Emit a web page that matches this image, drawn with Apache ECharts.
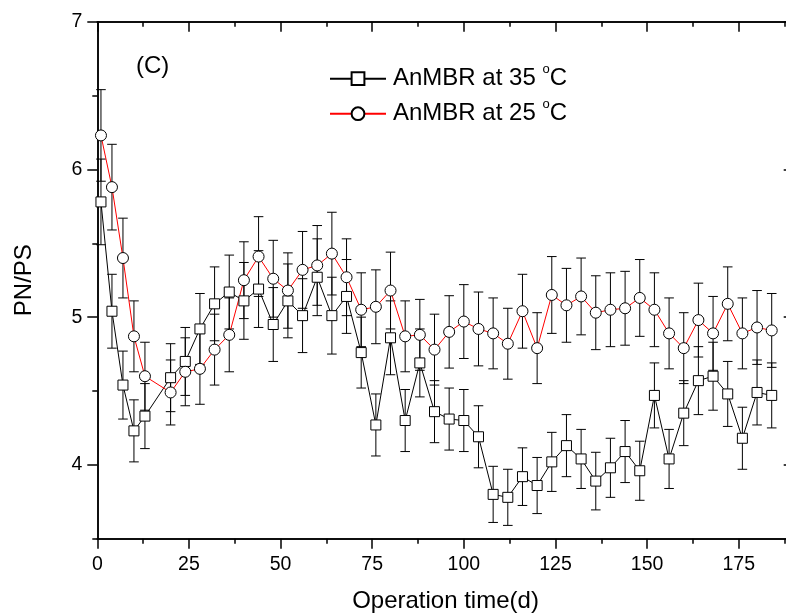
<!DOCTYPE html>
<html>
<head>
<meta charset="utf-8">
<title>PN/PS</title>
<script src="https://cdn.jsdelivr.net/npm/echarts@6.0.0/dist/echarts.min.js"></script>
<style>
html, body { margin: 0; padding: 0; background: #fff; }
#main { width: 786px; height: 615px; }
</style>
</head>
<body>
<div id="main"></div>
<script>
// sampling days (d)
const days = [1, 4, 7, 10, 13, 20, 24, 28, 32, 36, 40, 44, 48, 52, 56, 60, 64, 68, 72, 76, 80, 84, 88, 92,
  96, 100, 104, 108, 112, 116, 120, 124, 128, 132, 136, 140, 144, 148, 152, 156, 160, 164, 168, 172, 176, 180, 184];

// AnMBR at 35 C
const pn35 = [5.78, 5.04, 4.54, 4.23, 4.33, 4.59, 4.70, 4.92, 5.09, 5.17, 5.11, 5.19, 4.95, 5.11, 5.01, 5.27,
  5.01, 5.14, 4.76, 4.27, 4.86, 4.30, 4.69, 4.36, 4.31, 4.30, 4.19, 3.80, 3.78, 3.92, 3.86, 4.02, 4.13, 4.04,
  3.89, 3.98, 4.09, 3.96, 4.47, 4.04, 4.35, 4.57, 4.60, 4.48, 4.18, 4.49, 4.47];
const err35 = [0.29, 0.25, 0.23, 0.21, 0.22, 0.23, 0.23, 0.24, 0.25, 0.25, 0.26, 0.26, 0.25, 0.25, 0.25, 0.26,
  0.26, 0.25, 0.24, 0.21, 0.25, 0.21, 0.23, 0.21, 0.21, 0.21, 0.21, 0.19, 0.19, 0.195, 0.19, 0.20, 0.21, 0.20,
  0.195, 0.20, 0.21, 0.20, 0.22, 0.20, 0.22, 0.23, 0.23, 0.22, 0.21, 0.22, 0.22];

// AnMBR at 25 C
const pn25 = [6.23, 5.88, 5.40, 4.87, 4.60, 4.49, 4.63, 4.65, 4.78, 4.88, 5.25, 5.41, 5.26, 5.18, 5.32, 5.35,
  5.43, 5.27, 5.05, 5.07, 5.18, 4.87, 4.88, 4.78, 4.90, 4.97, 4.92, 4.89, 4.82, 5.04, 4.79, 5.15, 5.08, 5.14,
  5.03, 5.05, 5.06, 5.13, 5.05, 4.89, 4.79, 4.98, 4.89, 5.09, 4.89, 4.93, 4.91];
const err25 = [0.31, 0.29, 0.27, 0.24, 0.23, 0.22, 0.23, 0.24, 0.24, 0.25, 0.26, 0.27, 0.26, 0.255, 0.26, 0.27,
  0.28, 0.26, 0.25, 0.25, 0.26, 0.24, 0.24, 0.24, 0.245, 0.25, 0.25, 0.24, 0.24, 0.25, 0.24, 0.26, 0.25, 0.26,
  0.25, 0.25, 0.25, 0.26, 0.25, 0.24, 0.24, 0.25, 0.25, 0.25, 0.24, 0.25, 0.25];

// tick positions
const xMajor = [0, 25, 50, 75, 100, 125, 150, 175];
const xMinor = [12.5, 37.5, 62.5, 87.5, 112.5, 137.5, 162.5, 187.5];
const yMajor = [4, 5, 6, 7];
const yMinor = [3.5, 4.5, 5.5, 6.5];

const chart = echarts.init(document.getElementById('main'));
const font = 'Liberation Sans';
const name35 = 'AnMBR at 35 °C';
const name25 = 'AnMBR at 25 °C';

function errorBars(name, vals, errs) {
    return {
        name: name,
        type: 'custom',
        z: 1,
        silent: true,
        data: days.map((d, i) => [d, vals[i], errs[i]]),
        encode: { x: 0, y: 1 },
        renderItem: function (params, api) {
            const x = api.value(0), y = api.value(1), e = api.value(2);
            const hi = api.coord([x, y + e]);
            const lo = api.coord([x, y - e]);
            const cap = 4.8;
            const style = { stroke: '#000', lineWidth: 1 };
            return {
                type: 'group',
                children: [
                    { type: 'line', shape: { x1: hi[0], y1: hi[1], x2: lo[0], y2: lo[1] }, style: style },
                    { type: 'line', shape: { x1: hi[0] - cap, y1: hi[1], x2: hi[0] + cap, y2: hi[1] }, style: style },
                    { type: 'line', shape: { x1: lo[0] - cap, y1: lo[1], x2: lo[0] + cap, y2: lo[1] }, style: style }
                ]
            };
        }
    };
}

// one axis per tick set (major / minor, bottom / top etc.)
function xAxisDef(position, ticks, len, inside, labels) {
    return {
        type: 'value', position: position, min: 0, max: 190,
        axisLine: { show: true, onZero: false, lineStyle: { color: '#000', width: 1.5 } },
        axisTick: { show: true, inside: inside, length: len, customValues: ticks, lineStyle: { color: '#000', width: 1.5 } },
        axisLabel: labels ? { show: true, customValues: ticks, margin: 16, color: '#000', fontSize: 19.5, fontFamily: font } : { show: false },
        splitLine: { show: false }
    };
}

function yAxisDef(position, ticks, len, inside, labels) {
    return {
        type: 'value', position: position, min: 3.5, max: 7,
        axisLine: { show: true, onZero: false, lineStyle: { color: '#000', width: 1.5 } },
        axisTick: { show: true, inside: inside, length: len, customValues: ticks, lineStyle: { color: '#000', width: 1.5 } },
        axisLabel: labels ? { show: true, customValues: ticks, margin: 15, color: '#000', fontSize: 19.5, fontFamily: font } : { show: false },
        splitLine: { show: false }
    };
}

const xBottom = xAxisDef('bottom', xMajor, 10, false, true);
xBottom.name = 'Operation time(d)';
xBottom.nameLocation = 'middle';
xBottom.nameGap = 51;
xBottom.nameTextStyle = { fontSize: 24, color: '#000', fontFamily: font };

const yLeft = yAxisDef('left', yMajor, 10, false, true);
yLeft.name = 'PN/PS';
yLeft.nameLocation = 'middle';
yLeft.nameGap = 61;
yLeft.nameTextStyle = { fontSize: 24, color: '#000', fontFamily: font };

const option = {
    animation: false,
    backgroundColor: '#fff',
    // the right edge of the frame (x = 190) lies just outside the picture
    grid: { left: 97.3, width: 696.4, top: 21.7, bottom: 76.3, containLabel: false, outerBoundsMode: 'none' },
    xAxis: [
        xBottom,
        xAxisDef('bottom', xMinor, 5, false, false),
        xAxisDef('top', xMajor, 10, true, false),
        xAxisDef('top', xMinor, 5, true, false)
    ],
    yAxis: [
        yLeft,
        yAxisDef('left', yMinor, 5, false, false),
        yAxisDef('right', yMajor, 10, true, false),
        yAxisDef('right', yMinor, 5, true, false)
    ],
    legend: {
        data: [name35, name25],
        orient: 'vertical',
        left: 324,
        top: 57.7,
        itemWidth: 56,
        itemHeight: 16,
        itemGap: 3,
        selectedMode: false,
        formatter: name => name.replace(' °C', ' {sup|o}C'),
        textStyle: {
            fontFamily: font, fontSize: 24, color: '#000', lineHeight: 32, padding: [0, 0, 0, 2],
            rich: { sup: { fontFamily: font, fontSize: 13, lineHeight: 13, verticalAlign: 'top', color: '#000' } }
        }
    },
    graphic: [{
        type: 'text', left: 136, top: 54,
        style: { text: '(C)', fontSize: 24, fontFamily: font, fill: '#000' }
    }],
    series: [
        errorBars('err35', pn35, err35),
        errorBars('err25', pn25, err25),
        {
            name: name35, type: 'line', z: 3,
            data: days.map((d, i) => [d, pn35[i]]),
            symbol: 'rect', symbolSize: 10,
            lineStyle: { color: '#000', width: 1 },
            itemStyle: { color: '#fff', borderColor: '#000', borderWidth: 1 },
            emphasis: { disabled: true }
        },
        {
            name: name25, type: 'line', z: 3,
            data: days.map((d, i) => [d, pn25[i]]),
            symbol: 'circle', symbolSize: 11,
            lineStyle: { color: '#ff0000', width: 1 },
            itemStyle: { color: '#fff', borderColor: '#000', borderWidth: 1 },
            emphasis: { disabled: true }
        }
    ]
};

chart.setOption(option);
</script>
</body>
</html>
